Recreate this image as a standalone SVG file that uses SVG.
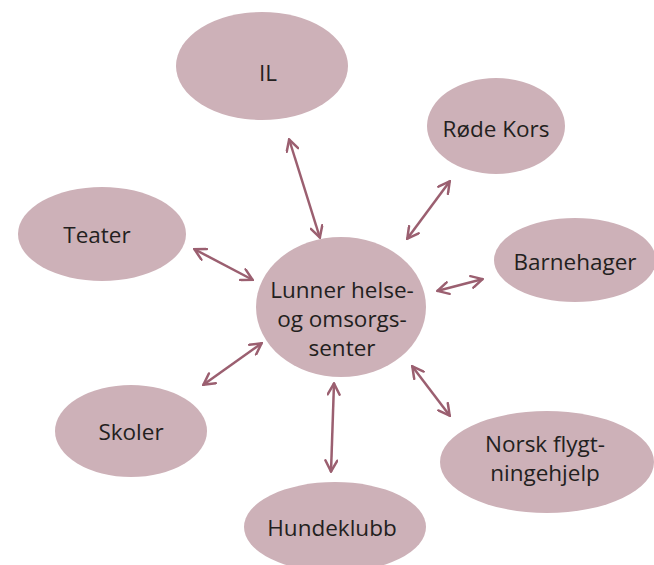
<svg xmlns="http://www.w3.org/2000/svg" width="654" height="565" viewBox="0 0 654 565">
<defs>
<marker id="ah" viewBox="0 0 14 14" refX="13" refY="7" markerWidth="14" markerHeight="14" markerUnits="userSpaceOnUse" orient="auto-start-reverse">
<path d="M1.5,1 L12.5,7 L1.5,13" fill="none" stroke="#9b5f70" stroke-width="2.5" stroke-linecap="round" stroke-linejoin="miter"/>
</marker>
<style>
.n{fill:#cdb1b8}
.t{font-family:"Open Sans","Liberation Sans",sans-serif;font-size:22.5px;fill:#231f20;text-anchor:middle}
.c{stroke:#9b5f70;stroke-width:2.5;fill:none;marker-start:url(#ah);marker-end:url(#ah)}
</style>
</defs>
<rect width="654" height="565" fill="#ffffff"/>
<g id="connectors">
<line class="c" x1="289" y1="139" x2="320" y2="238"/>
<line class="c" x1="450" y1="181" x2="407" y2="239"/>
<line class="c" x1="194" y1="249" x2="253" y2="280"/>
<line class="c" x1="437" y1="291" x2="483" y2="279"/>
<line class="c" x1="203" y1="385" x2="262" y2="343"/>
<line class="c" x1="334" y1="383" x2="331" y2="472"/>
<line class="c" x1="412" y1="366" x2="450" y2="416"/>
</g>
<g id="center"><ellipse class="n" cx="341" cy="307" rx="85" ry="70"/>
<text class="t"><tspan x="342" y="298">Lunner helse-</tspan><tspan x="342" y="327">og omsorgs-</tspan><tspan x="342" y="356">senter</tspan></text></g>
<g id="il"><ellipse class="n" cx="262" cy="66" rx="86" ry="54"/><text class="t" x="268" y="81">IL</text></g>
<g id="rodekors"><ellipse class="n" cx="496" cy="126" rx="69" ry="48"/><text class="t" x="496" y="137">Røde Kors</text></g>
<g id="teater"><ellipse class="n" cx="102" cy="234" rx="84" ry="47"/><text class="t" x="97" y="243">Teater</text></g>
<g id="barnehager"><ellipse class="n" cx="575" cy="260" rx="81" ry="42"/><text class="t" x="575" y="270">Barnehager</text></g>
<g id="skoler"><ellipse class="n" cx="131" cy="431" rx="76" ry="46"/><text class="t" x="131" y="440">Skoler</text></g>
<g id="hundeklubb"><ellipse class="n" cx="335" cy="527" rx="91" ry="45"/><text class="t" x="332" y="536">Hundeklubb</text></g>
<g id="norsk"><ellipse class="n" cx="547" cy="462" rx="107" ry="51"/>
<text class="t"><tspan x="545" y="452">Norsk flygt-</tspan><tspan x="545" y="481">ningehjelp</tspan></text></g>
</svg>
